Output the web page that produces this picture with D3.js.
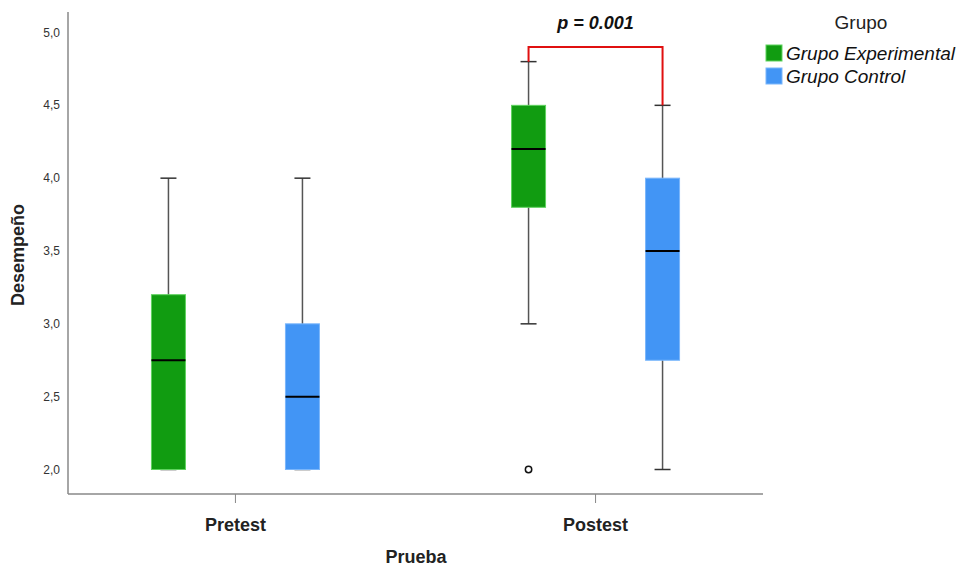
<!DOCTYPE html>
<html>
<head>
<meta charset="utf-8">
<script src="https://cdn.jsdelivr.net/npm/d3@7"></script>
<style>
  body { margin: 0; background: #fff; }
  svg { font-family: "Liberation Sans", Arial, sans-serif; }
</style>
</head>
<body>
<div id="chart"></div>
<script>
// data
var pruebas = ["Pretest", "Postest"]
var grupos = ["Grupo Experimental", "Grupo Control"]
var colores = ["#119c11", "#4295f5"]
var bordes = ["#5fd35f", "#7ab6fb"]
// [prueba, grupo, min, q1, mediana, q3, max]
var cajas = [
    ["Pretest", "Grupo Experimental", 2.0, 2.0, 2.75, 3.2, 4.0],
    ["Pretest", "Grupo Control", 2.0, 2.0, 2.5, 3.0, 4.0],
    ["Postest", "Grupo Experimental", 3.0, 3.8, 4.2, 4.5, 4.8],
    ["Postest", "Grupo Control", 2.0, 2.75, 3.5, 4.0, 4.5]
]
var atipicos = [["Postest", "Grupo Experimental", 2.0]]
var yTicks = [2.0, 2.5, 3.0, 3.5, 4.0, 4.5, 5.0]
var pTexto = "p = 0.001"
var pAltura = 4.9

var width = 960, height = 569
var svg = d3.select("#chart").append("svg")
    .attr("width", width)
    .attr("height", height)

var x = d3.scalePoint().domain(pruebas).range([68, 763]).padding(0.465)
var xg = d3.scalePoint().domain(grupos).range([-67, 67])
var y = d3.scaleLinear().domain([2, 5]).range([469.5, 32.5])
var boxW = 34, capW = 16

// axes
svg.append("line")
    .attr("x1", 68).attr("x2", 68)
    .attr("y1", 12).attr("y2", 494)
    .attr("stroke", "#888").attr("stroke-width", 1.5)
svg.append("line")
    .attr("x1", 68).attr("x2", 763)
    .attr("y1", 494).attr("y2", 494)
    .attr("stroke", "#888").attr("stroke-width", 1.5)

svg.selectAll(".ytick")
    .data(yTicks)
    .enter()
    .append("text")
    .attr("x", 60)
    .attr("y", function(d) { return y(d) + 4 })
    .attr("text-anchor", "end")
    .attr("font-size", "12px")
    .attr("fill", "#333")
    .text(function(d) { return d3.format(".1f")(d).replace(".", ",") })

svg.selectAll(".xtick")
    .data(pruebas)
    .enter()
    .append("line")
    .attr("x1", function(d) { return x(d) })
    .attr("x2", function(d) { return x(d) })
    .attr("y1", 494).attr("y2", 503)
    .attr("stroke", "#888").attr("stroke-width", 1)

svg.selectAll(".xlabel")
    .data(pruebas)
    .enter()
    .append("text")
    .attr("x", function(d) { return x(d) })
    .attr("y", 531)
    .attr("text-anchor", "middle")
    .attr("font-size", "18px")
    .attr("font-weight", "bold")
    .attr("fill", "#222")
    .text(function(d) { return d })

svg.append("text")
    .attr("x", 416).attr("y", 563)
    .attr("text-anchor", "middle")
    .attr("font-size", "18px")
    .attr("font-weight", "bold")
    .attr("fill", "#222")
    .text("Prueba")

svg.append("text")
    .attr("transform", "translate(24,255) rotate(-90)")
    .attr("text-anchor", "middle")
    .attr("font-size", "18px")
    .attr("font-weight", "bold")
    .attr("fill", "#222")
    .text("Desempeño")

// boxes
var cx = function(d) { return x(d[0]) + xg(d[1]) }
var g = svg.selectAll(".caja")
    .data(cajas)
    .enter()
    .append("g")

g.append("line")
    .attr("x1", cx).attr("x2", cx)
    .attr("y1", function(d) { return y(d[2]) })
    .attr("y2", function(d) { return y(d[6]) })
    .attr("stroke", "#555").attr("stroke-width", 1.5)

g.append("line")
    .attr("x1", function(d) { return cx(d) - capW / 2 })
    .attr("x2", function(d) { return cx(d) + capW / 2 })
    .attr("y1", function(d) { return y(d[6]) })
    .attr("y2", function(d) { return y(d[6]) })
    .attr("stroke", "#333").attr("stroke-width", 1.5)

g.append("line")
    .attr("x1", function(d) { return cx(d) - capW / 2 })
    .attr("x2", function(d) { return cx(d) + capW / 2 })
    .attr("y1", function(d) { return y(d[2]) })
    .attr("y2", function(d) { return y(d[2]) })
    .attr("stroke", "#333").attr("stroke-width", 1.5)

g.append("rect")
    .attr("x", function(d) { return cx(d) - boxW / 2 })
    .attr("y", function(d) { return y(d[5]) })
    .attr("width", boxW)
    .attr("height", function(d) { return y(d[3]) - y(d[5]) })
    .attr("fill", function(d) { return colores[grupos.indexOf(d[1])] })
    .attr("stroke", function(d) { return bordes[grupos.indexOf(d[1])] })
    .attr("stroke-width", 1)

g.append("line")
    .attr("x1", function(d) { return cx(d) - boxW / 2 })
    .attr("x2", function(d) { return cx(d) + boxW / 2 })
    .attr("y1", function(d) { return y(d[4]) })
    .attr("y2", function(d) { return y(d[4]) })
    .attr("stroke", "#000").attr("stroke-width", 2)

svg.selectAll(".atipico")
    .data(atipicos)
    .enter()
    .append("circle")
    .attr("cx", cx)
    .attr("cy", function(d) { return y(d[2]) })
    .attr("r", 3.2)
    .attr("fill", "none")
    .attr("stroke", "#111")
    .attr("stroke-width", 1.5)

// significance bracket
var bx1 = x("Postest") + xg(grupos[0]), bx2 = x("Postest") + xg(grupos[1])
var post = cajas.filter(function(d) { return d[0] == "Postest" })
svg.append("path")
    .attr("d", "M" + bx1 + "," + y(post[0][6]) + "V" + y(pAltura) + "H" + bx2 + "V" + y(post[1][6]))
    .attr("fill", "none")
    .attr("stroke", "#e01010")
    .attr("stroke-width", 2)

svg.append("text")
    .attr("x", (bx1 + bx2) / 2).attr("y", 29)
    .attr("text-anchor", "middle")
    .attr("font-size", "18px")
    .attr("font-weight", "bold")
    .attr("font-style", "italic")
    .attr("fill", "#111")
    .text(pTexto)

// legend
svg.append("text")
    .attr("x", 861).attr("y", 29)
    .attr("text-anchor", "middle")
    .attr("font-size", "19px")
    .attr("fill", "#222")
    .text("Grupo")

var leg = svg.selectAll(".leg")
    .data(grupos)
    .enter()
    .append("g")
    .attr("transform", function(d, i) { return "translate(766," + (45 + i * 23) + ")" })
leg.append("rect")
    .attr("width", 16).attr("height", 16)
    .attr("fill", function(d, i) { return colores[i] })
    .attr("stroke", function(d, i) { return bordes[i] })
leg.append("text")
    .attr("x", 20).attr("y", 15)
    .attr("font-size", "19px")
    .attr("font-style", "italic")
    .attr("fill", "#111")
    .text(function(d) { return d })
</script>
</body>
</html>
